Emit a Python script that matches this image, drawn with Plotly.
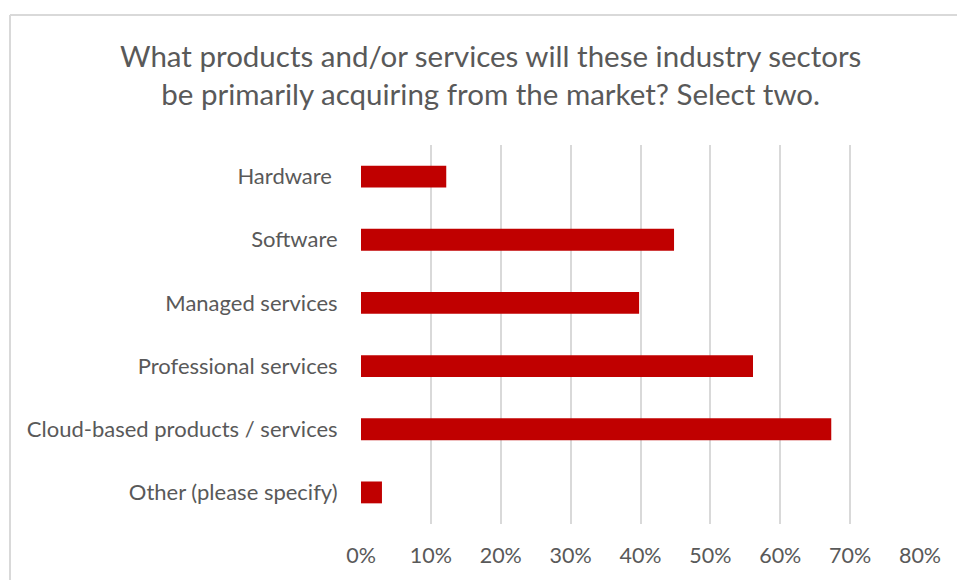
import plotly.graph_objects as go

# Survey responses (share of respondents, %)
categories = [
    "Hardware\u00a0",
    "Software",
    "Managed services",
    "Professional services",
    "Cloud-based products / services",
    "Other (please specify)",
]
shares = [12.2, 44.8, 39.8, 56.1, 67.3, 3.0]

tick_values = [0, 10, 20, 30, 40, 50, 60, 70, 80]
tick_labels = ["0%", "10%", "20%", "30%", "40%", "50%", "60%", "70%", "80%"]

title_lines = [
    "What products and/or services will these industry sectors",
    "be primarily acquiring from the market? Select two.",
]

TEXT = "#595959"
BAR = "#C00000"
GRID = "#D9D9D9"
FONT = "Lato"

W, H = 957, 580
L, R, T, B = 361, 37, 145, 53
pw, ph = W - L - R, H - T - B


def px_x(p):
    return (p - L) / pw


def px_y(p):
    return (H - B - p) / ph


fig = go.Figure(
    go.Bar(
        x=shares,
        y=categories,
        orientation="h",
        marker=dict(color=BAR, line=dict(width=0)),
        hoverinfo="x+y",
    )
)

fig.update_layout(
    width=W,
    height=H,
    margin=dict(l=L, r=R, t=T, b=B, pad=0),
    paper_bgcolor="white",
    plot_bgcolor="white",
    bargap=0.654,
    showlegend=False,
    font=dict(family=FONT, color=TEXT, size=22),
)

fig.update_xaxes(
    range=[0, 80],
    tickvals=tick_values,
    ticktext=tick_labels,
    showgrid=True,
    gridcolor=GRID,
    gridwidth=2,
    zeroline=False,
    showline=False,
    ticks="outside",
    ticklen=12,
    tickcolor="rgba(0,0,0,0)",
    tickfont=dict(family=FONT, size=21.5, color=TEXT),
    fixedrange=True,
)

fig.update_yaxes(
    categoryorder="array",
    categoryarray=categories,
    autorange="reversed",
    showgrid=False,
    zeroline=False,
    showline=False,
    ticks="outside",
    ticklen=18,
    tickcolor="rgba(0,0,0,0)",
    tickfont=dict(family=FONT, size=22, color=TEXT),
    fixedrange=True,
)

# Two-line chart title centred over the chart box
fig.add_annotation(
    text="<br>".join(title_lines),
    xref="paper",
    yref="paper",
    x=px_x(490),
    y=px_y(74),
    xanchor="center",
    yanchor="middle",
    showarrow=False,
    align="center",
    font=dict(family=FONT, size=29.5, color=TEXT),
)

# Light grey frame around the chart (runs off the right and bottom edges)
fig.add_shape(type="line", xref="paper", yref="paper",
              x0=px_x(10), x1=px_x(10), y0=px_y(14), y1=px_y(600),
              line=dict(color=GRID, width=2))
fig.add_shape(type="line", xref="paper", yref="paper",
              x0=px_x(10), x1=px_x(980), y0=px_y(14), y1=px_y(14),
              line=dict(color=GRID, width=2))

fig.write_html("out.html")
